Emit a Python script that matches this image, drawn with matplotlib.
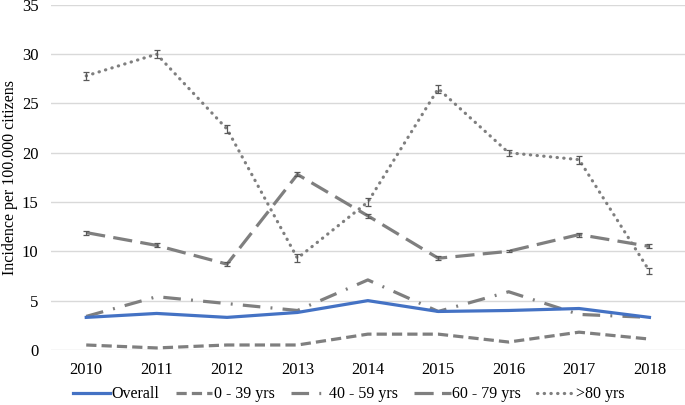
import numpy as np
import matplotlib.pyplot as plt

plt.rcParams['font.family'] = ['Liberation Serif', 'DejaVu Serif']

years = [2010, 2011, 2012, 2013, 2014, 2015, 2016, 2017, 2018]
overall = [3.3, 3.7, 3.3, 3.8, 5.0, 3.9, 4.0, 4.2, 3.3]
age_0_39 = [0.5, 0.2, 0.5, 0.5, 1.6, 1.6, 0.8, 1.8, 1.1]
age_40_59 = [3.4, 5.4, 4.7, 4.0, 7.1, 3.9, 5.9, 3.6, 3.3]
age_60_79 = [11.9, 10.6, 8.7, 17.8, 13.6, 9.3, 10.0, 11.7, 10.5]
age_80 = [27.8, 30.0, 22.4, 9.3, 15.0, 26.5, 20.0, 19.3, 8.0]
err_60_79 = [0.2, 0.2, 0.2, 0.2, 0.2, 0.2, 0.1, 0.2, 0.2]
err_80 = [0.4, 0.4, 0.4, 0.4, 0.4, 0.4, 0.3, 0.4, 0.3]

grey = '#7f7f7f'
blue = '#4472c4'
lw = 2.3

fig = plt.figure(figsize=(6.85, 4.05), dpi=100)
ax = fig.add_axes([0.0745, 0.136, 0.925, 0.852])

ax.plot(years, overall, color=blue, lw=lw, label='Overall', zorder=5)
ax.plot(years, age_0_39, color=grey, lw=lw, dashes=(3.2, 1.6), label='0 - 39 yrs')
ax.plot(years, age_40_59, color=grey, lw=lw, dashes=(5.5, 3.2, 0.6, 3.2), label='40 - 59 yrs')
ax.plot(years, age_60_79, color=grey, lw=lw, dashes=(6, 2.6), label='60 - 79 yrs')
ax.plot(years, age_80, color=grey, lw=lw, dashes=(0.1, 2.0), dash_capstyle='round', label='>80 yrs')
ax.errorbar(years, age_60_79, yerr=err_60_79, fmt='none', ecolor='#595959', elinewidth=0.9, capsize=2.5, capthick=0.9)
ax.errorbar(years, age_80, yerr=err_80, fmt='none', ecolor='#595959', elinewidth=0.9, capsize=2.5, capthick=0.9)

ax.set_xlim(2009.5, 2018.5)
ax.set_ylim(0, 35)
ax.set_yticks(np.arange(0, 36, 5))
ax.set_xticks(years)
ax.grid(axis='y', color='#d9d9d9', lw=1)
ax.set_axisbelow(True)
for s in ax.spines.values():
    s.set_visible(False)
ax.tick_params(length=0, labelsize=12, pad=9)
ax.tick_params(axis='y', pad=9)
ax.set_ylabel('Incidence per 100.000 citizens', fontsize=11.5)
ax.yaxis.set_label_coords(-0.052, 0.5)

ax.legend(loc='upper center', bbox_to_anchor=(0.47, -0.078), ncol=5, frameon=False,
          fontsize=11.5, handlelength=2.3, handletextpad=0.1, columnspacing=1.0,
          borderaxespad=0.2)

fig.savefig('out.png', dpi=100)
